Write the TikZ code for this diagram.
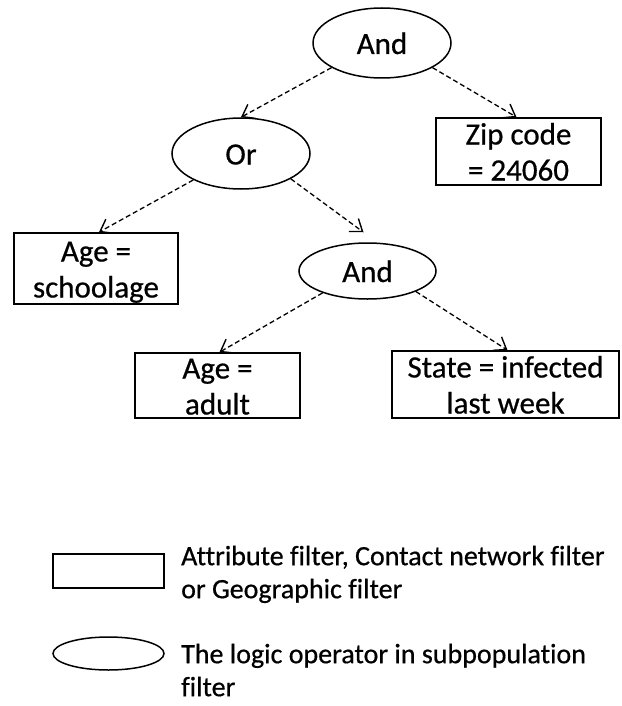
\documentclass[tikz,border=0pt]{standalone}
\usepackage{fontspec}
\setmainfont{Carlito}[Ligatures=NoCommon,FakeBold=0.6]
\usetikzlibrary{shapes.geometric,arrows.meta}

% one text line with fixed height/depth so every line sits the same way
\newcommand\tline[1]{\rule[-3pt]{0pt}{28pt}\smash{#1}}

\begin{document}
\begin{tikzpicture}[x=1pt,y=-1pt,
  op/.style={ellipse,draw,line width=1.5pt,inner sep=0pt,
    font=\fontsize{31}{36}\selectfont},
  filt/.style={rectangle,draw,line width=1.7pt,inner sep=0pt,align=center,
    font=\fontsize{31}{36}\selectfont},
  arr/.style={line width=1.3pt,dash pattern=on 5pt off 3pt,
    -{Straight Barb[length=11pt,width=16pt,line width=1.4pt]}},
  legtext/.style={anchor=north west,inner sep=0pt,align=left,
    font=\fontsize{28}{33}\selectfont}]
\useasboundingbox (0,0) rectangle (621,706);

% tree of filters
\node[op,minimum width=138pt,minimum height=70pt] (and1) at (382,43) {\tline{And}};
\node[op,minimum width=138pt,minimum height=71pt] (or) at (241,153.5) {\tline{Or}};
\node[filt,minimum width=165pt,minimum height=67pt] (zip) at (518.5,151.5)
  {\tline{Zip code}\\\tline{= 24060}};
\node[filt,minimum width=164pt,minimum height=71pt] (age1) at (96,268.5)
  {\tline{Age =}\\\tline{schoolage}};
\node[op,minimum width=137pt,minimum height=56pt] (and2) at (367.5,271) {\tline{And}};
\node[filt,minimum width=165pt,minimum height=65pt] (adult) at (217.5,385.5)
  {\tline{Age =}\\\tline{adult}};
\node[filt,minimum width=227pt,minimum height=67pt] (state) at (505.5,384.5)
  {\tline{State = infected}\\\tline{last week}};

\draw[arr] (and1.206.6) -- (or.north);
\draw[arr] (and1.-26) -- ([xshift=-2pt]zip.north);
\draw[arr] (or.209) -- ([xshift=3pt]age1.north);
\draw[arr] (or.-27.5) -- ([xshift=-4pt,yshift=10pt]and2.north);
\draw[arr] (and2.206) -- ([xshift=2pt]adult.north);
\draw[arr] (and2.-23.5) -- ([xshift=2pt]state.north);

% legend
\node[rectangle,draw,line width=1.7pt,minimum width=111pt,minimum height=34pt,inner sep=0pt]
  (legbox) at (108.5,571) {};
\node[legtext] (legboxt) at (181,540)
  {\tline{Attribute filter, Contact network filter}\\\tline{or Geographic filter}};
\node[ellipse,draw,line width=1.5pt,minimum width=111pt,minimum height=33pt,inner sep=0pt]
  (legell) at (108.5,653.5) {};
\node[legtext] (legellt) at (181,638)
  {\tline{The logic operator in subpopulation}\\\tline{filter}};
\end{tikzpicture}
\end{document}
